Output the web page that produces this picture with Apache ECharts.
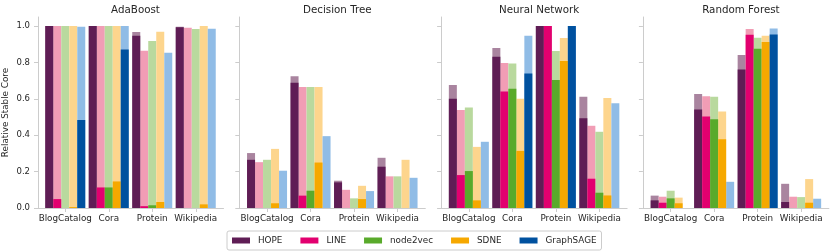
<!DOCTYPE html>
<html>
<head>
<meta charset="utf-8">
<script src="https://cdn.jsdelivr.net/npm/echarts@6/dist/echarts.min.js"></script>
<style>html,body{margin:0;padding:0;background:#fff}#c{width:830px;height:252px}</style>
</head>
<body>
<div id="c"></div>
<script>
// ---- data ----
const categories = ['BlogCatalog', 'Cora', 'Protein', 'Wikipedia'];
const methods = ['HOPE', 'LINE', 'node2vec', 'SDNE', 'GraphSAGE'];
const classifiers = ['AdaBoost', 'Decision Tree', 'Neural Network', 'Random Forest'];
const yTicks = [0, 0.2, 0.4, 0.6, 0.8, 1.0];

// per method (rows: HOPE, LINE, node2vec, SDNE, GraphSAGE), per category (cols)
const adaBoostLight = [
  [1.0, 1.0, 0.967, 0.997],
  [1.0, 1.0, 0.865, 0.991],
  [1.0, 1.0, 0.918, 0.984],
  [1.0, 1.0, 0.969, 1.0],
  [0.996, 1.0, 0.854, 0.985]
];
const adaBoostDark = [
  [1.0, 1.0, 0.947, 0.993],
  [0.049, 0.113, 0.010, 0],
  [0, 0.113, 0.015, 0],
  [0.005, 0.146, 0.033, 0.020],
  [0.484, 0.872, 0, 0]
];
const decisionTreeLight = [
  [0.302, 0.724, 0.150, 0.276],
  [0.252, 0.665, 0.100, 0.174],
  [0.265, 0.665, 0.053, 0.174],
  [0.325, 0.665, 0.122, 0.265],
  [0.205, 0.395, 0.093, 0.166]
];
const decisionTreeDark = [
  [0.265, 0.689, 0.141, 0.227],
  [0, 0.068, 0, 0],
  [0, 0.095, 0, 0],
  [0.026, 0.250, 0.049, 0],
  [0, 0, 0, 0]
];
const neuralNetworkLight = [
  [0.676, 0.879, 1.0, 0.611],
  [0.539, 0.797, 1.0, 0.452],
  [0.552, 0.795, 0.863, 0.419],
  [0.336, 0.600, 0.934, 0.605],
  [0.364, 0.947, 1.0, 0.576]
];
const neuralNetworkDark = [
  [0.601, 0.832, 1.0, 0.494],
  [0.181, 0.640, 1.0, 0.161],
  [0.203, 0.656, 0.704, 0.084],
  [0.042, 0.314, 0.808, 0.069],
  [0, 0.740, 1.0, 0]
];
const randomForestLight = [
  [0.068, 0.627, 0.841, 0.133],
  [0.062, 0.614, 0.984, 0.062],
  [0.095, 0.611, 0.936, 0.060],
  [0.057, 0.530, 0.947, 0.159],
  [0, 0.144, 0.987, 0.051]
];
const randomForestDark = [
  [0.042, 0.541, 0.761, 0.033],
  [0.029, 0.503, 0.952, 0],
  [0.053, 0.488, 0.876, 0],
  [0.026, 0.378, 0.912, 0.029],
  [0, 0, 0.954, 0]
];

const lightData = [adaBoostLight, decisionTreeLight, neuralNetworkLight, randomForestLight];
const darkData = [adaBoostDark, decisionTreeDark, neuralNetworkDark, randomForestDark];

// ---- styles ----
const darkColors = ['#5f1d55', '#e2006f', '#59aa2b', '#f6a800', '#00519f'];
const lightColors = ['#a9849f', '#f19db5', '#b9d99e', '#fdd58d', '#90bce6'];
const FONT = 'DejaVu Sans';
const AXIS_GRAY = '#cccccc';
const TEXT = '#262626';
const panelLeft = [37.5, 239.3, 441.1, 642.9];
const frameW = 186, barInset = 6, barW = 174;
const TOP = 17, H = 191;
const YMAX = 1.05;

const grids = [], xAxes = [], yAxes = [], series = [], titles = [];

classifiers.forEach((name, p) => {
  const L = panelLeft[p];
  titles.push({
    text: name, left: L + frameW / 2, top: 0, textAlign: 'center',
    textStyle: {fontFamily: FONT, fontSize: 10.3, fontWeight: 'normal', color: TEXT}
  });
  // frame grid
  const gA = grids.length;
  grids.push({left: L, top: TOP, width: frameW, height: H});
  xAxes.push({gridIndex: gA, type: 'value', min: 0, max: 1,
    axisLine: {show: true, lineStyle: {color: AXIS_GRAY, width: 1}},
    axisTick: {show: false}, axisLabel: {show: false}, splitLine: {show: false}});
  yAxes.push({gridIndex: gA, type: 'value', min: 0, max: YMAX,
    name: p === 0 ? 'Relative Stable Core' : '', nameLocation: 'middle', nameGap: 28,
    nameTextStyle: {fontFamily: FONT, fontSize: 8.8, color: TEXT},
    axisLine: {show: true, lineStyle: {color: AXIS_GRAY, width: 1}},
    axisTick: {show: true, length: 4, customValues: yTicks, lineStyle: {color: AXIS_GRAY}},
    axisLabel: {show: p === 0, customValues: yTicks, margin: 8,
      fontFamily: FONT, fontSize: 8.5, color: TEXT, formatter: v => v.toFixed(1)},
    splitLine: {show: false}});
  // light bars grid
  const gB = grids.length;
  grids.push({left: L + barInset, top: TOP, width: barW, height: H});
  xAxes.push({gridIndex: gB, type: 'category', data: categories,
    axisLine: {show: false},
    axisTick: {show: true, alignWithLabel: true, interval: 0, length: 4, lineStyle: {color: AXIS_GRAY}},
    axisLabel: {show: true, interval: 0, hideOverlap: false, margin: 6,
      fontFamily: FONT, fontSize: 8.8, color: TEXT}});
  yAxes.push({gridIndex: gB, type: 'value', min: 0, max: YMAX, show: false});
  // dark bars grid
  const gC = grids.length;
  grids.push({left: L + barInset, top: TOP, width: barW, height: H});
  xAxes.push({gridIndex: gC, type: 'category', data: categories, show: false});
  yAxes.push({gridIndex: gC, type: 'value', min: 0, max: YMAX, show: false});

  methods.forEach((m, k) => {
    series.push({
      type: 'bar', name: m + ' (all)', xAxisIndex: gB, yAxisIndex: gB,
      data: lightData[p][k], barWidth: 8, barGap: '0%', z: 2,
      itemStyle: {color: lightColors[k]}, silent: true
    });
  });
  methods.forEach((m, k) => {
    series.push({
      type: 'bar', name: m, xAxisIndex: gC, yAxisIndex: gC,
      data: darkData[p][k], barWidth: 8, barGap: '0%', z: 3,
      itemStyle: {color: darkColors[k]}, silent: true
    });
  });
});

const chart = echarts.init(document.getElementById('c'), null, {renderer: 'canvas'});
chart.setOption({
  animation: false,
  backgroundColor: '#ffffff',
  title: titles,
  legend: {
    data: methods, left: 227, top: 231, orient: 'horizontal',
    icon: 'rect', itemWidth: 18, itemHeight: 6, itemGap: 18,
    padding: [5, 5], borderColor: AXIS_GRAY, borderWidth: 1, borderRadius: 2,
    textStyle: {fontFamily: FONT, fontSize: 8.8, color: TEXT, padding: [0, 0, 0, 3]}
  },
  grid: grids, xAxis: xAxes, yAxis: yAxes, series: series
});
</script>
</body>
</html>
